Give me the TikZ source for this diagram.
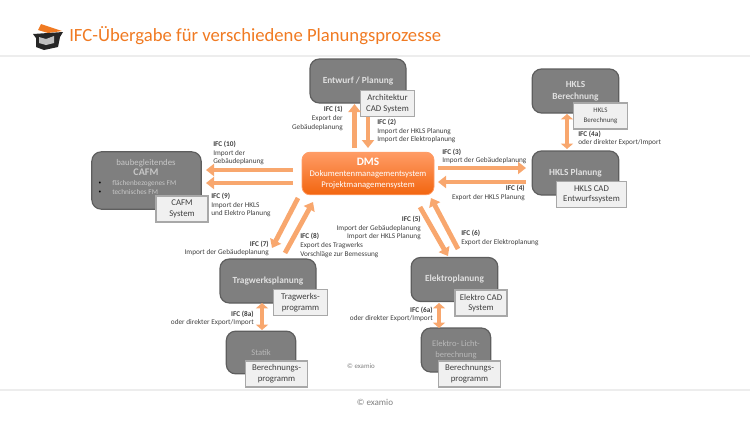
\documentclass[tikz,border=0pt]{standalone}
\usepackage{fontspec}
\setmainfont{Carlito}
\usetikzlibrary{arrows.meta}
\definecolor{titleorange}{HTML}{F07A22}
\definecolor{arrowfill}{HTML}{F8A76E}
\definecolor{boxgray}{HTML}{7F7F7F}
\definecolor{boxedge}{HTML}{5E5E5E}
\definecolor{sysfill}{HTML}{F0F0F0}
\definecolor{sysedge}{HTML}{A8A8A8}
\definecolor{labeltext}{HTML}{404040}
\definecolor{ruleline}{HTML}{EDEDED}
\definecolor{dmstop}{HTML}{FF9C66}
\definecolor{dmsbottom}{HTML}{F2650F}
\tikzset{
  planbox/.style={draw=boxedge,line width=0.9pt,fill=boxgray,rounded corners=7pt,align=center,
    text=white!88!black,font=\fontsize{7}{9}\selectfont\bfseries,inner sep=0pt},
  sysbox/.style={draw=sysedge,line width=0.8pt,fill=sysfill,align=center,
    text=labeltext,font=\fontsize{6.6}{8}\selectfont,inner sep=0pt},
  lbl/.style={inner sep=0pt,text=labeltext,font=\fontsize{5.45}{6.5}\selectfont},
  lblleft/.style={lbl,anchor=west,align=left},
  lblright/.style={lbl,anchor=east,align=right},
  flow/.style={line width=3.6pt,draw=arrowfill,-{Triangle[length=6pt,width=9pt]}},
  bothflow/.style={line width=3.6pt,draw=arrowfill,{Triangle[length=4pt,width=9pt]}-{Triangle[length=4pt,width=9pt]}}
}
\begin{document}
\begin{tikzpicture}[x=0.75pt,y=-0.75pt]
\useasboundingbox (0,0) rectangle (750,422);
% head and foot
\fill[ruleline] (0,55) rectangle (750,57);
\fill[ruleline] (0,389) rectangle (750,391);
\fill[titleorange] (38,30) -- (41,24) -- (50,27) -- (62,31) -- (48,33) -- cycle;
\fill[black!85] (33,34) -- (48,33) -- (63,32) -- (60,37) -- (58,47) -- (44,50) -- (36,47) -- (36,38) -- cycle;
\fill[white!75!black] (39,37) -- (46,39) -- (54,36) -- (54,43) -- (46,45) -- (39,43) -- cycle;
\node[anchor=west,inner sep=0pt,text=titleorange,font=\fontsize{14}{16}\selectfont] (title) at (69,36) {IFC-Übergabe für verschiedene Planungsprozesse};
\node[inner sep=0pt,text=black!50,font=\fontsize{6.8}{8}\selectfont] (foot) at (375,402) {© examio};
\node[inner sep=0pt,text=black!50,font=\fontsize{5.2}{6}\selectfont] (copy) at (361,366) {© examio};
% centre
\node[draw=dmstop,line width=0.6pt,rounded corners=6pt,top color=dmstop,bottom color=dmsbottom,
  minimum width=99pt,minimum height=32pt,align=center,text=white,inner sep=0pt,font=\fontsize{6.5}{8.2}\selectfont]
  (dms) at (368,173.5) {{\fontsize{8.5}{10}\selectfont\bfseries DMS}\\Dokumentenmanagementsystem\\Projektmanagemensystem};
% planning boxes
\node[planbox,minimum width=72pt,minimum height=33pt] (entwurf) at (358,81) {Entwurf / Planung};
\node[planbox,minimum width=65pt,minimum height=33pt] (hklsber) at (575.5,91) {HKLS\\Berechnung};
\node[planbox,minimum width=65pt,minimum height=33pt] (hklsplan) at (575.5,173) {HKLS Planung};
\node[planbox,minimum width=82pt,minimum height=43pt] (cafm) at (146.5,180.5) {};
\node[planbox,minimum width=72pt,minimum height=33pt] (tragwerk) at (268,281) {Tragwerksplanung};
\node[planbox,minimum width=52pt,minimum height=32pt,text=white!72!black,font=\fontsize{6.4}{8}\selectfont] (statik) at (261,352.5) {Statik};
\node[planbox,minimum width=65pt,minimum height=33pt] (elektro) at (454.5,279.5) {Elektroplanung};
\node[planbox,minimum width=52pt,minimum height=33pt,text=white!72!black,font=\fontsize{6.4}{8.2}\selectfont] (licht) at (456,350) {Elektro- Licht-\\berechnung};
\node[inner sep=0pt,align=center,text=white!78!black,font=\fontsize{6.6}{8.2}\selectfont] (cafmhead) at (146,167.5) {baubegleitendes\\{\fontsize{7.6}{8.2}\selectfont\bfseries CAFM}};
\node[inner sep=0pt,anchor=west,align=left,text=white!78!black,font=\fontsize{5.45}{7}\selectfont] (cafmlist) at (112,187.5) {flächenbezogenes FM\\technisches FM};
\node[inner sep=0pt,align=center,text=black,font=\fontsize{4}{7}\selectfont] (cafmdots) at (100,187.5) {\textbullet\\\textbullet};
% systems
\node[sysbox,minimum width=40pt,minimum height=20pt] (arch) at (387.5,103.5) {Architektur\\CAD System};
\node[sysbox,minimum width=40pt,minimum height=19.5pt,font=\fontsize{5.2}{7.2}\selectfont] (hklssys) at (600.5,116) {HKLS\\Berechnung};
\node[sysbox,minimum width=52pt,minimum height=20pt] (hklscad) at (591.5,194.5) {HKLS CAD\\Entwurfssystem};
\node[sysbox,minimum width=39pt,minimum height=19.5pt] (cafmsys) at (182,209) {CAFM\\System};
\node[sysbox,minimum width=40pt,minimum height=20pt] (tragsys) at (300.5,302.5) {Tragwerks-\\programm};
\node[sysbox,minimum width=46pt,minimum height=19.5pt] (statiksys) at (276.5,374) {Berechnungs-\\programm};
\node[sysbox,minimum width=39pt,minimum height=19.5pt] (elektrosys) at (481,303) {Elektro CAD\\System};
\node[sysbox,minimum width=46pt,minimum height=19.5pt] (lichtsys) at (469.5,374) {Berechnungs-\\programm};
% arrow ends
\coordinate (a1) at (354.5,148); \coordinate (b1) at (354.5,104);
\coordinate (a2) at (368,117);   \coordinate (b2) at (368,148);
\coordinate (a3) at (438,168);   \coordinate (b3) at (526,168);
\coordinate (a4) at (526,182);   \coordinate (b4) at (438,182);
\coordinate (a4a) at (567,114);  \coordinate (b4a) at (567,149);
\coordinate (a5) at (420,207);   \coordinate (b5) at (448,256);
\coordinate (a6) at (458,249);   \coordinate (b6) at (431,198);
\coordinate (a6a) at (439,303);  \coordinate (b6a) at (439,328);
\coordinate (a7) at (298,198);   \coordinate (b7) at (272,248);
\coordinate (a8) at (285,253);   \coordinate (b8) at (313,202);
\coordinate (a8a) at (262,303);  \coordinate (b8a) at (262,330);
\coordinate (a9) at (293,183);   \coordinate (b9) at (206,183);
\coordinate (a10) at (293,170);  \coordinate (b10) at (206,170);
\draw[flow] (a1) -- (b1);
\draw[flow] (a2) -- (b2);
\draw[flow] (a3) -- (b3);
\draw[flow] (a4) -- (b4);
\draw[bothflow] (a4a) -- (b4a);
\draw[flow] (a5) -- (b5);
\draw[flow] (a6) -- (b6);
\draw[bothflow] (a6a) -- (b6a);
\draw[flow] (a7) -- (b7);
\draw[flow] (a8) -- (b8);
\draw[bothflow] (a8a) -- (b8a);
\draw[flow] (a9) -- (b9);
\draw[flow] (a10) -- (b10);
% labels
\node[lblright] (l1) at (343,118.5) {\textbf{IFC (1)}\\Export der\\Gebäudeplanung};
\node[lblleft] (l2) at (377,131) {\textbf{IFC (2)}\\Import der HKLS Planung\\Import der Elektroplanung};
\node[lblleft] (l3) at (442,156.5) {\textbf{IFC (3)}\\Import der Gebäudeplanung};
\node[lblright] (l4) at (525,193) {\textbf{IFC (4)}\\Export der HKLS Planung};
\node[lblleft] (l4a) at (578,138.5) {\textbf{IFC (4a)}\\oder direkter Export/Import};
\node[lblright] (l5) at (421,228) {\textbf{IFC (5)}\\Import der Gebäudeplanung\\Import der HKLS Planung};
\node[lblleft] (l6) at (461,238) {\textbf{IFC (6)}\\Export der Elektroplanung};
\node[lblright] (l6a) at (433,314.5) {\textbf{IFC (6a)}\\oder direkter Export/Import};
\node[lblright] (l7) at (269,248.5) {\textbf{IFC (7)}\\Import der Gebäudeplanung};
\node[lblleft] (l8) at (300,245.5) {\textbf{IFC (8)}\\Export des Tragwerks\\Vorschläge zur Bemessung};
\node[lblright] (l8a) at (254,318.5) {\textbf{IFC (8a)}\\oder direkter Export/Import};
\node[lblleft] (l9) at (211,205) {\textbf{IFC (9)}\\Import der HKLS\\und Elektro Planung};
\node[lblleft] (l10) at (213,153) {\textbf{IFC (10)}\\Import der\\Gebäudeplanung};
\end{tikzpicture}
\end{document}
